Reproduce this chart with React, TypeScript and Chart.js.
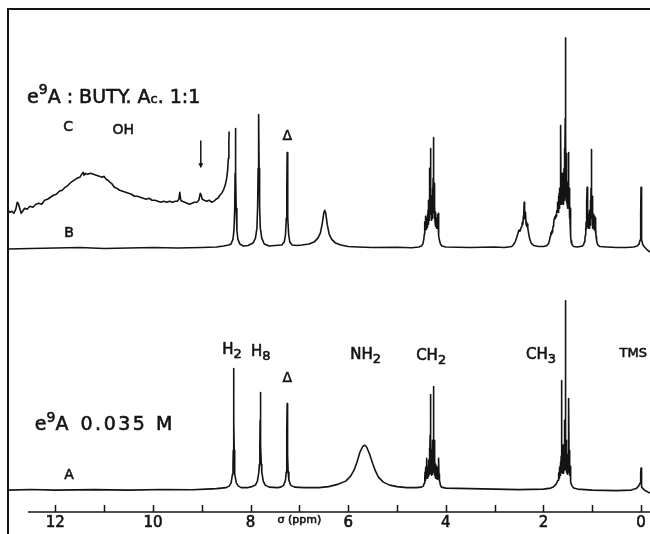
import { useEffect, useRef } from "react";
import { Chart, registerables } from "chart.js";

Chart.register(...registerables);

// ---------- data (chemical shift in ppm, intensity in arbitrary units) ----------
const tickValues = [12, 11, 10, 9, 8, 7, 6, 5, 4, 3, 2, 1, 0];
const tickLabels: Record<number, string> = { 12: "12", 10: "10", 8: "8", 7: "σ (ppm)", 6: "6", 4: "4", 2: "2", 0: "0" };

// Spectrum A: e9A 0.035 M
const spectrumA: [number, number][] = [
  [12.97, 0], [12.5, 0.6], [12.0, 0], [11.2, 0.5], [10.5, 0], [9.8, 0.6], [9.2, 0.4], [8.9, 1], [8.7, 1.5], [8.6, 2],
  [8.5, 2.5], [8.44, 4], [8.4, 7], [8.37, 16], [8.36, 24], [8.355, 40], [8.35, 70], [8.345, 122], [8.34, 70], [8.335, 40],
  [8.33, 24], [8.32, 16], [8.29, 7], [8.25, 4], [8.19, 2.5], [8.05, 2.5], [7.97, 3.5], [7.9, 5], [7.86, 9], [7.83, 18],
  [7.82, 26], [7.81, 45], [7.805, 70], [7.8, 98], [7.795, 70], [7.79, 45], [7.78, 26], [7.77, 18], [7.74, 9], [7.7, 5],
  [7.62, 3], [7.45, 2.5], [7.38, 3], [7.32, 5], [7.285, 10], [7.27, 18], [7.262, 35], [7.255, 60], [7.25, 87], [7.245, 60],
  [7.238, 35], [7.23, 18], [7.215, 10], [7.18, 5], [7.1, 3], [6.9, 2.5], [6.6, 2.5], [6.4, 3.5], [6.2, 6], [6.05, 9],
  [5.95, 14], [5.88, 20], [5.82, 28], [5.76, 38], [5.7, 44], [5.66, 45], [5.62, 43], [5.56, 36], [5.5, 27], [5.44, 19],
  [5.38, 13], [5.28, 8], [5.15, 5], [5.0, 3.5], [4.8, 2.5], [4.6, 2.5],
  [4.5, 3], [4.46, 4], [4.44, 7], [4.43, 12], [4.426, 18], [4.422, 10], [4.418, 20], [4.414, 12], [4.41, 22], [4.406, 13],
  [4.402, 24], [4.398, 14], [4.394, 32], [4.39, 14], [4.386, 24], [4.382, 12], [4.378, 22], [4.374, 13], [4.37, 20], [4.366, 12],
  [4.362, 24], [4.358, 14], [4.354, 28], [4.35, 14], [4.346, 30], [4.342, 16], [4.338, 34], [4.334, 18], [4.33, 42], [4.326, 18],
  [4.322, 55], [4.318, 20], [4.313, 96], [4.309, 20], [4.305, 48], [4.301, 17], [4.297, 40], [4.293, 16], [4.289, 30], [4.285, 15],
  [4.281, 34], [4.277, 16], [4.273, 40], [4.269, 17], [4.265, 50], [4.261, 18], [4.257, 62], [4.252, 20], [4.246, 104], [4.242, 20],
  [4.238, 50], [4.234, 17], [4.23, 40], [4.226, 15], [4.222, 30], [4.218, 14], [4.214, 26], [4.21, 13], [4.206, 24], [4.202, 12],
  [4.198, 22], [4.194, 12], [4.19, 24], [4.186, 12], [4.182, 20], [4.178, 11], [4.174, 22], [4.17, 12], [4.166, 20], [4.162, 11],
  [4.158, 22], [4.154, 12], [4.15, 24], [4.146, 14], [4.142, 32], [4.138, 12], [4.134, 16], [4.13, 9], [4.125, 10], [4.11, 5],
  [4.09, 3], [4.0, 2], [3.5, 1.5], [3.0, 1], [2.5, 0.5], [2.0, 1], [1.85, 2],
  [1.8, 3], [1.74, 6], [1.7, 10], [1.69, 13], [1.685, 17], [1.68, 12], [1.676, 20], [1.672, 13], [1.668, 22], [1.664, 14],
  [1.66, 24], [1.656, 15], [1.652, 26], [1.648, 16], [1.644, 28], [1.64, 17], [1.636, 34], [1.632, 18], [1.628, 50], [1.624, 110],
  [1.62, 20], [1.616, 45], [1.612, 18], [1.608, 36], [1.604, 17], [1.6, 30], [1.596, 17], [1.592, 34], [1.588, 18], [1.584, 40],
  [1.58, 19], [1.576, 46], [1.572, 20], [1.568, 55], [1.564, 22], [1.56, 70], [1.556, 30], [1.552, 190], [1.548, 28], [1.544, 65],
  [1.54, 21], [1.536, 50], [1.532, 19], [1.528, 40], [1.524, 18], [1.52, 34], [1.516, 17], [1.512, 30], [1.508, 16], [1.504, 32],
  [1.5, 17], [1.496, 36], [1.492, 18], [1.488, 42], [1.484, 19], [1.48, 55], [1.476, 92], [1.472, 20], [1.468, 40], [1.464, 17],
  [1.46, 30], [1.456, 15], [1.452, 24], [1.448, 13], [1.444, 18], [1.44, 10], [1.435, 8], [1.43, 6], [1.41, 4], [1.38, 2],
  [1.3, 1], [1.0, 0], [0.5, -0.5], [0.2, 0], [0.1, 1.5], [0.05, 4], [0.02, 7], [0.01, 11], [0.004, 17],
  [0, 22], [-0.004, 14], [-0.01, 6], [-0.02, 3], [-0.05, 1], [-0.1, -1], [-0.184, -3],
];

// Spectrum B: e9A : butyl acetate 1:1
const spectrumB: [number, number][] = [
  [12.97, -1], [12.5, -0.5], [12.0, 0], [11.5, 0.5], [11.0, -0.5], [10.5, 0], [10.0, 0.5], [9.5, 0], [9.0, 0.5], [8.7, 1],
  [8.55, 2], [8.45, 3], [8.4, 4], [8.36, 9], [8.34, 18], [8.325, 40], [8.317, 75], [8.31, 120], [8.303, 75], [8.295, 40],
  [8.28, 18], [8.26, 9], [8.22, 4], [8.15, 2], [8.05, 2.5], [7.95, 5], [7.9, 10], [7.87, 20], [7.855, 42], [7.845, 80],
  [7.835, 134], [7.825, 80], [7.815, 42], [7.8, 20], [7.77, 10], [7.72, 4], [7.62, 2], [7.5, 2.5], [7.36, 3], [7.31, 6],
  [7.285, 13], [7.268, 30], [7.258, 60], [7.25, 96], [7.243, 60], [7.234, 30], [7.218, 13], [7.195, 6], [7.15, 3], [7.05, 2.5],
  [6.95, 3], [6.8, 4], [6.7, 6], [6.62, 10], [6.57, 15], [6.53, 25], [6.5, 35], [6.48, 38], [6.46, 35], [6.43, 24],
  [6.39, 14], [6.34, 9], [6.26, 5], [6.15, 3], [6.0, 1.5], [5.8, 1], [5.5, 0.5], [5.0, 0.8], [4.7, 0.3], [4.55, 1],
  [4.5, 2], [4.47, 4], [4.45, 9], [4.44, 14], [4.436, 20], [4.432, 15], [4.428, 26], [4.424, 18], [4.42, 30], [4.416, 20],
  [4.412, 32], [4.408, 20], [4.404, 30], [4.4, 19], [4.396, 28], [4.392, 20], [4.388, 30], [4.384, 21], [4.38, 32], [4.376, 22],
  [4.372, 34], [4.368, 23], [4.364, 38], [4.36, 24], [4.356, 44], [4.352, 26], [4.348, 48], [4.344, 28], [4.34, 55], [4.336, 30],
  [4.332, 65], [4.328, 32], [4.324, 80], [4.32, 36], [4.316, 100], [4.312, 40], [4.308, 60], [4.304, 34], [4.3, 52], [4.296, 30],
  [4.292, 46], [4.288, 28], [4.284, 50], [4.28, 30], [4.276, 55], [4.272, 32], [4.268, 60], [4.264, 34], [4.26, 70], [4.256, 36],
  [4.252, 82], [4.248, 111], [4.244, 40], [4.24, 65], [4.236, 34], [4.232, 52], [4.228, 30], [4.224, 42], [4.22, 26], [4.216, 36],
  [4.212, 24], [4.208, 32], [4.204, 22], [4.2, 30], [4.196, 21], [4.192, 30], [4.188, 20], [4.184, 28], [4.18, 20], [4.176, 30],
  [4.172, 20], [4.168, 30], [4.164, 21], [4.16, 34], [4.156, 22], [4.152, 35], [4.148, 18], [4.144, 22], [4.14, 12], [4.13, 8],
  [4.11, 4], [4.08, 2], [4.0, 1], [3.5, 0.5], [3.0, 1], [2.8, 0.5], [2.65, 1.5], [2.62, 3], [2.58, 6], [2.55, 10],
  [2.52, 15], [2.5, 18], [2.48, 17], [2.46, 20], [2.44, 22], [2.43, 26], [2.42, 24], [2.41, 32], [2.405, 30], [2.395, 46],
  [2.39, 32], [2.385, 38], [2.38, 30], [2.375, 34], [2.37, 28], [2.365, 36], [2.355, 24], [2.345, 26], [2.34, 22], [2.33, 24],
  [2.32, 20], [2.3, 14], [2.28, 9], [2.25, 5], [2.2, 2.5], [2.1, 1.5], [2.0, 1.5],
  [1.95, 2], [1.92, 3], [1.89, 5], [1.87, 9], [1.86, 12], [1.85, 15], [1.84, 14], [1.83, 17], [1.82, 16], [1.81, 19],
  [1.8, 22], [1.79, 25], [1.78, 29], [1.77, 31], [1.76, 30], [1.75, 33], [1.74, 32], [1.73, 36], [1.72, 38], [1.715, 44],
  [1.71, 36], [1.705, 46], [1.7, 38], [1.695, 48], [1.69, 36], [1.686, 52], [1.682, 38], [1.678, 55], [1.674, 40], [1.67, 58],
  [1.666, 42], [1.662, 60], [1.658, 44], [1.654, 70], [1.65, 46], [1.646, 80], [1.642, 123], [1.638, 48], [1.634, 75], [1.63, 46],
  [1.626, 68], [1.622, 44], [1.618, 72], [1.614, 45], [1.61, 75], [1.606, 46], [1.602, 65], [1.598, 44], [1.594, 62], [1.59, 45],
  [1.586, 72], [1.582, 46], [1.578, 80], [1.574, 48], [1.57, 88], [1.566, 50], [1.562, 100], [1.558, 55], [1.554, 130], [1.549, 211],
  [1.545, 60], [1.541, 110], [1.537, 55], [1.533, 95], [1.529, 50], [1.525, 78], [1.521, 46], [1.517, 70], [1.513, 44], [1.509, 62],
  [1.505, 42], [1.501, 60], [1.497, 40], [1.493, 66], [1.489, 40], [1.485, 75], [1.481, 96], [1.477, 40], [1.473, 60], [1.469, 35],
  [1.465, 52], [1.461, 30], [1.457, 45], [1.453, 25], [1.449, 40], [1.445, 20], [1.441, 32], [1.437, 12], [1.433, 7], [1.42, 4],
  [1.4, 2.5], [1.38, 1.5], [1.3, 1],
  [1.2, 2], [1.18, 3], [1.16, 6], [1.15, 9], [1.14, 13], [1.135, 20], [1.13, 16], [1.125, 26], [1.12, 20], [1.116, 34],
  [1.112, 24], [1.108, 45], [1.104, 61], [1.1, 28], [1.096, 44], [1.092, 24], [1.088, 38], [1.084, 22], [1.08, 34], [1.076, 21],
  [1.072, 32], [1.068, 20], [1.064, 30], [1.06, 20], [1.056, 34], [1.052, 22], [1.048, 38], [1.044, 23], [1.04, 42], [1.036, 24],
  [1.032, 48], [1.028, 26], [1.024, 60], [1.02, 30], [1.016, 75], [1.012, 99], [1.008, 30], [1.004, 52], [1.0, 24], [0.996, 44],
  [0.992, 22], [0.988, 38], [0.984, 20], [0.98, 34], [0.976, 20], [0.972, 32], [0.968, 20], [0.964, 30], [0.96, 19], [0.956, 28],
  [0.952, 18], [0.948, 32], [0.944, 20], [0.94, 30], [0.936, 17], [0.932, 26], [0.928, 15], [0.924, 20], [0.92, 11], [0.91, 8],
  [0.9, 5], [0.88, 3], [0.84, 1.5], [0.7, 1], [0.5, 0.5],
  [0.3, 0.5], [0.15, 1], [0.08, 2], [0.04, 4], [0.02, 8], [0.01, 16], [0.004, 35], [0, 61], [-0.004, 35], [-0.01, 16],
  [-0.02, 8], [-0.04, 3], [-0.08, 0.5], [-0.12, -1.5], [-0.184, -4],
];

// Trace C: amplified low-field region of B (broad OH)
const spectrumC: [number, number][] = [
  [12.97, 38], [12.93, 36], [12.89, 37], [12.85, 35], [12.81, 39], [12.78, 46], [12.76, 45], [12.73, 40], [12.7, 35], [12.67, 37],
  [12.63, 40], [12.58, 39], [12.52, 42], [12.46, 41], [12.4, 44], [12.34, 45], [12.28, 44], [12.22, 48], [12.16, 49], [12.1, 51],
  [12.04, 53], [11.98, 54], [11.92, 57], [11.86, 58], [11.8, 61], [11.74, 63], [11.68, 66], [11.62, 68], [11.56, 70], [11.5, 71],
  [11.46, 74], [11.43, 76], [11.41, 73], [11.38, 75], [11.34, 74], [11.28, 75], [11.22, 74], [11.16, 73], [11.1, 72], [11.04, 71],
  [11.0, 72], [10.96, 69], [10.92, 68], [10.88, 66], [10.85, 65], [10.82, 63], [10.79, 61], [10.74, 60], [10.68, 58], [10.62, 57],
  [10.56, 56], [10.5, 55], [10.44, 54], [10.38, 52], [10.32, 52], [10.26, 51], [10.2, 50], [10.14, 49], [10.08, 50], [10.02, 48],
  [9.96, 48], [9.9, 47], [9.84, 46], [9.78, 47], [9.72, 46], [9.66, 47], [9.6, 46], [9.54, 47], [9.5, 47], [9.47, 49],
  [9.45, 56], [9.43, 48], [9.4, 47], [9.35, 46], [9.3, 45], [9.25, 44], [9.2, 45], [9.15, 46], [9.1, 46], [9.06, 48],
  [9.03, 55], [9.01, 53], [8.99, 49], [8.95, 48], [8.9, 47], [8.85, 48], [8.8, 46], [8.75, 47], [8.71, 49], [8.67, 50],
  [8.63, 53], [8.59, 55], [8.55, 59], [8.52, 63], [8.49, 70], [8.47, 78], [8.455, 90], [8.445, 105], [8.44, 117],
];

// ---------- layout constants ----------
const X_MAX = 12.97;
const X_MIN = -0.184;
const Y_MIN = -22;
const Y_MAX = 483;
const OFFSET_B = 243;
const AXIS_START = 12.56;
const INK = "#141414";
const FONT = "'DejaVu Sans', sans-serif";
const TEXT_STROKE = 0.6;

type Run = { t: string; s: number; dy?: number; ls?: number };
type Label = { ppm: number; v: number; align: "left" | "center"; runs: Run[] };

const LABELS: Label[] = [
  { ppm: 12.58, v: 394, align: "left", runs: [{ t: "e", s: 19 }, { t: "9", s: 14, dy: -7 }, { t: "A : BUTY. A", s: 19 }, { t: "c", s: 13, dy: 2 }, { t: ". 1:1", s: 19 }] },
  { ppm: 11.74, v: 364, align: "center", runs: [{ t: "C", s: 14 }] },
  { ppm: 10.61, v: 361, align: "center", runs: [{ t: "OH", s: 14 }] },
  { ppm: 11.72, v: 258, align: "center", runs: [{ t: "B", s: 14 }] },
  { ppm: 7.25, v: 355, align: "center", runs: [{ t: "Δ", s: 14 }] },
  { ppm: 8.38, v: 141, align: "center", runs: [{ t: "H", s: 15 }, { t: "2", s: 13, dy: 5 }] },
  { ppm: 7.79, v: 139, align: "center", runs: [{ t: "H", s: 15 }, { t: "8", s: 13, dy: 5 }] },
  { ppm: 7.25, v: 112, align: "center", runs: [{ t: "Δ", s: 14 }] },
  { ppm: 5.64, v: 136, align: "center", runs: [{ t: "NH", s: 15 }, { t: "2", s: 13, dy: 5 }] },
  { ppm: 4.3, v: 135, align: "center", runs: [{ t: "CH", s: 15 }, { t: "2", s: 13, dy: 5 }] },
  { ppm: 2.05, v: 136, align: "center", runs: [{ t: "CH", s: 15 }, { t: "3", s: 13, dy: 5 }] },
  { ppm: 0.16, v: 137, align: "center", runs: [{ t: "TMS", s: 13 }] },
  { ppm: 12.42, v: 65, align: "left", runs: [{ t: "e", s: 19 }, { t: "9", s: 14, dy: -7 }, { t: "A  ", s: 19 }, { t: "0.035 M", s: 19, ls: 2.5 }] },
  { ppm: 11.72, v: 15, align: "center", runs: [{ t: "A", s: 14 }] },
];

// arrow marking the small signal in trace C (intensities relative to spectrum B)
const ARROW = { ppm: 9.02, vTop: 108, vTip: 80 };

const decorPlugin = {
  id: "decor",
  afterDraw(chart: any) {
    const { ctx, scales } = chart;
    const x = scales.x;
    const y = scales.y;
    ctx.save();
    ctx.strokeStyle = INK;
    ctx.fillStyle = INK;
    ctx.lineCap = "butt";
    // frame: left and top border
    ctx.lineWidth = 2;
    ctx.beginPath();
    ctx.moveTo(x.left, chart.height);
    ctx.lineTo(x.left, y.top);
    ctx.lineTo(chart.width, y.top);
    ctx.stroke();
    // axis line and upward tick marks
    const ay = y.bottom;
    ctx.lineWidth = 1.5;
    ctx.beginPath();
    ctx.moveTo(x.getPixelForValue(AXIS_START), ay);
    ctx.lineTo(chart.width, ay);
    for (const t of x.ticks) {
      const px = Math.round(x.getPixelForValue(t.value)) + 0.5;
      ctx.moveTo(px, ay);
      ctx.lineTo(px, ay - 7);
    }
    ctx.stroke();
    // arrow
    const axp = x.getPixelForValue(ARROW.ppm);
    const yt = y.getPixelForValue(ARROW.vTop + OFFSET_B);
    const yb = y.getPixelForValue(ARROW.vTip + OFFSET_B);
    ctx.lineWidth = 1.5;
    ctx.beginPath();
    ctx.moveTo(axp, yt);
    ctx.lineTo(axp, yb - 3);
    ctx.stroke();
    ctx.beginPath();
    ctx.moveTo(axp - 2.5, yb - 5);
    ctx.lineTo(axp + 2.5, yb - 5);
    ctx.lineTo(axp, yb);
    ctx.closePath();
    ctx.fill();
    // text labels
    ctx.textBaseline = "middle";
    ctx.textAlign = "left";
    ctx.lineWidth = TEXT_STROKE;
    ctx.lineJoin = "round";
    const setRun = (r: Run) => {
      ctx.font = `${r.s}px ${FONT}`;
      ctx.letterSpacing = `${r.ls || 0}px`;
    };
    for (const lab of LABELS) {
      let total = 0;
      for (const r of lab.runs) {
        setRun(r);
        total += ctx.measureText(r.t).width;
      }
      let cx = x.getPixelForValue(lab.ppm);
      const cy = y.getPixelForValue(lab.v);
      if (lab.align === "center") cx -= total / 2;
      for (const r of lab.runs) {
        setRun(r);
        ctx.fillText(r.t, cx, cy + (r.dy || 0));
        ctx.strokeText(r.t, cx, cy + (r.dy || 0));
        cx += ctx.measureText(r.t).width;
      }
    }
    ctx.letterSpacing = "0px";
    ctx.restore();
  },
};

export default function App() {
  const ref = useRef<HTMLCanvasElement | null>(null);
  useEffect(() => {
    if (!ref.current) return;
    const toXY = (arr: [number, number][], off: number) => arr.map(([p, v]) => ({ x: p, y: v + off }));
    const lineStyle = {
      borderColor: INK,
      borderWidth: 1.6,
      pointRadius: 0,
      tension: 0,
      fill: false,
      borderJoinStyle: "round" as const,
    };
    const chart = new Chart(ref.current, {
      type: "line",
      data: {
        datasets: [
          { label: "A", data: toXY(spectrumA, 0), ...lineStyle },
          { label: "B", data: toXY(spectrumB, OFFSET_B), ...lineStyle },
          { label: "C", data: toXY(spectrumC, OFFSET_B), ...lineStyle },
        ],
      },
      options: {
        animation: false,
        responsive: false,
        parsing: false as any,
        layout: { padding: { left: 8, top: 9, right: 0, bottom: 0 } },
        plugins: { legend: { display: false }, tooltip: { enabled: false } },
        scales: {
          x: {
            type: "linear",
            reverse: true,
            min: X_MIN,
            max: X_MAX,
            grid: { display: false, drawTicks: false },
            border: { display: false },
            afterBuildTicks: (scale: any) => {
              scale.ticks = tickValues.map((v) => ({ value: v }));
            },
            ticks: {
              autoSkip: false,
              maxRotation: 0,
              padding: 2,
              color: INK,
              textStrokeColor: INK,
              textStrokeWidth: TEXT_STROKE,
              includeBounds: false,
              font: (c: any) =>
                c.tick && c.tick.value === 7
                  ? { family: FONT, size: 11 }
                  : { family: FONT, size: 15 },
              callback: (v: any) => tickLabels[Number(v)] ?? "",
            },
          },
          y: { type: "linear", display: false, min: Y_MIN, max: Y_MAX },
        },
      },
      plugins: [decorPlugin],
    });
    return () => chart.destroy();
  }, []);
  return (
    <div style={{ position: "fixed", left: 0, top: 0, width: 650, height: 534, background: "#fff" }}>
      <canvas ref={ref} width={650} height={534} style={{ display: "block" }} />
    </div>
  );
}
